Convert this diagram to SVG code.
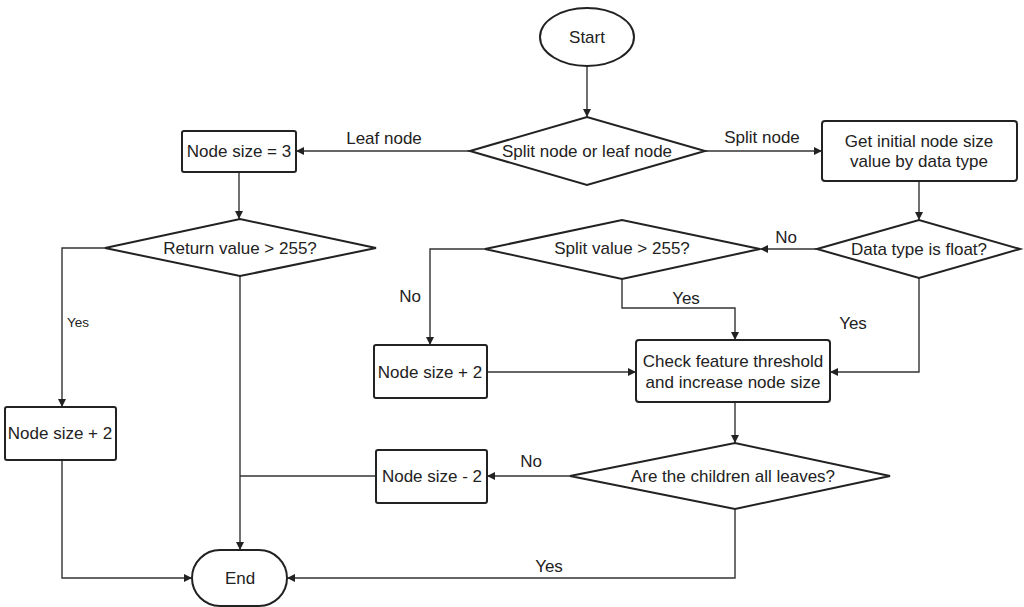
<svg xmlns="http://www.w3.org/2000/svg" width="1024" height="607" viewBox="0 0 1024 607">
<style>
.n{fill:#fff;stroke:#222;stroke-width:2}
.c{fill:none;stroke:#333;stroke-width:1.4}
text{font-family:"Liberation Sans",Arial,sans-serif;font-size:17px;fill:#222;text-anchor:middle;dominant-baseline:central}
.s{font-size:13.5px}
</style>
<defs>
<marker id="a" viewBox="0 0 10 10" refX="10" refY="5" markerWidth="8" markerHeight="8" markerUnits="userSpaceOnUse" orient="auto">
<path d="M0,0 L10,5 L0,10 Z" fill="#222"/>
</marker>
</defs>
<rect width="1024" height="607" fill="#fff"/>
<g id="connectors">
<path class="c" d="M587,66 V117" marker-end="url(#a)"/>
<path class="c" d="M470,151 H296" marker-end="url(#a)"/>
<path class="c" d="M705,151 H822" marker-end="url(#a)"/>
<path class="c" d="M919,181 V220" marker-end="url(#a)"/>
<path class="c" d="M817,249 H760" marker-end="url(#a)"/>
<path class="c" d="M485,249 H430 V345" marker-end="url(#a)"/>
<path class="c" d="M487,372 H636" marker-end="url(#a)"/>
<path class="c" d="M622,279 V308 H735 V340" marker-end="url(#a)"/>
<path class="c" d="M919,278 V372 H830" marker-end="url(#a)"/>
<path class="c" d="M735,402 V443" marker-end="url(#a)"/>
<path class="c" d="M570,476 H487" marker-end="url(#a)"/>
<path class="c" d="M376,476 H240"/>
<path class="c" d="M735,509 V578 H287" marker-end="url(#a)"/>
<path class="c" d="M239,172 V219" marker-end="url(#a)"/>
<path class="c" d="M240,276 V550" marker-end="url(#a)"/>
<path class="c" d="M105,248 H62 V407" marker-end="url(#a)"/>
<path class="c" d="M62,460 V578 H192" marker-end="url(#a)"/>
<text x="384" y="138">Leaf node</text>
<text x="762" y="137">Split node</text>
<text x="786" y="237">No</text>
<text x="410" y="296">No</text>
<text x="686" y="298">Yes</text>
<text x="853" y="323">Yes</text>
<text x="531" y="461">No</text>
<text x="549" y="566">Yes</text>
<text class="s" x="78" y="322">Yes</text>
</g>
<g id="start"><ellipse class="n" cx="587" cy="37" rx="47" ry="29"/><text x="587" y="37">Start</text></g>
<g id="split-or-leaf"><polygon class="n" points="470,151 587,117 705,151 587,185"/><text x="587" y="151">Split node or leaf node</text></g>
<g id="node-size-3"><rect class="n" x="182" y="131" width="114" height="41" rx="2"/><text x="239" y="151">Node size = 3</text></g>
<g id="get-initial"><rect class="n" x="822" y="121" width="195" height="60" rx="3"/><text x="919" y="141">Get initial node size</text><text x="919" y="161">value by data type</text></g>
<g id="data-type-float"><polygon class="n" points="817,249 919,220 1020,249 919,278"/><text x="919" y="249">Data type is float?</text></g>
<g id="split-value"><polygon class="n" points="485,249 622,220 760,249 622,279"/><text x="622" y="248">Split value &gt; 255?</text></g>
<g id="node-size-plus2-mid"><rect class="n" x="374" y="345" width="113" height="53" rx="2"/><text x="430" y="372">Node size + 2</text></g>
<g id="check-feature"><rect class="n" x="636" y="340" width="194" height="62" rx="3"/><text x="733" y="361">Check feature threshold</text><text x="733" y="382">and increase node size</text></g>
<g id="children-leaves"><polygon class="n" points="570,476 735,443 890,476 735,509"/><text x="733" y="476">Are the children all leaves?</text></g>
<g id="node-size-minus2"><rect class="n" x="376" y="450" width="111" height="53" rx="2"/><text x="432" y="476">Node size - 2</text></g>
<g id="return-value"><polygon class="n" points="105,248 240,219 376,248 240,276"/><text x="240" y="248">Return value &gt; 255?</text></g>
<g id="node-size-plus2-left"><rect class="n" x="5" y="407" width="111" height="53" rx="2"/><text x="60" y="433">Node size + 2</text></g>
<g id="end"><rect class="n" x="192" y="550" width="95" height="56" rx="28"/><text x="240" y="578">End</text></g>
</svg>
